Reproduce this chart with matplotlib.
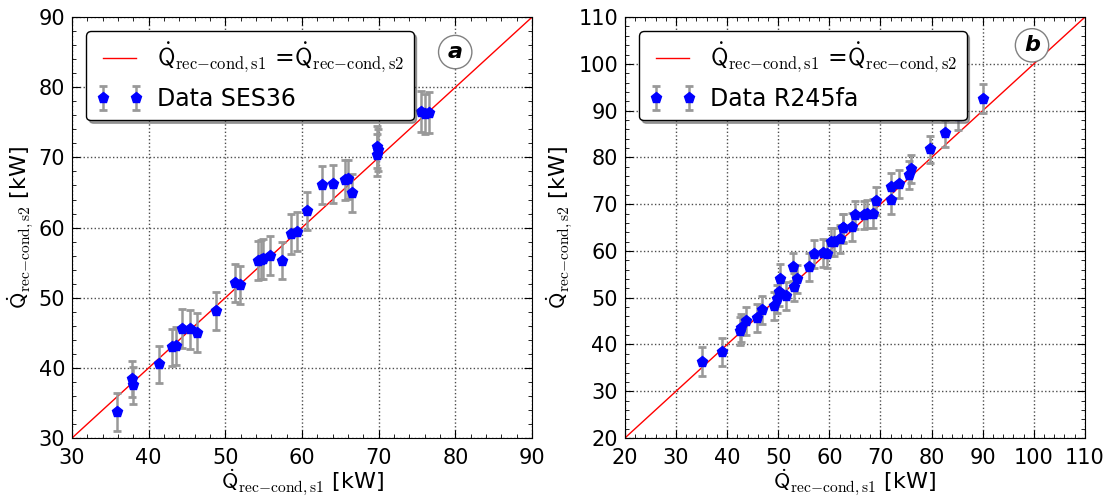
import matplotlib
matplotlib.use("Agg")
import matplotlib.pyplot as plt
from matplotlib.ticker import AutoMinorLocator, MultipleLocator

# data
x_ses = [35.8, 37.8, 37.9, 41.3, 43.0, 43.5, 44.4, 45.4, 46.3, 48.8, 51.3, 51.9,
         54.2, 54.6, 54.9, 55.8, 57.4, 58.6, 59.3, 60.7, 62.6, 64.1, 65.6, 66.0,
         66.5, 69.8, 69.9, 69.8, 75.5, 76.1, 76.6]
y_ses = [33.7, 38.4, 37.5, 40.5, 42.9, 43.1, 45.6, 45.5, 45.0, 48.1, 52.1, 51.8,
         55.3, 55.4, 55.5, 56.0, 55.3, 59.1, 59.4, 62.3, 66.1, 66.2, 66.8, 66.9,
         64.9, 70.3, 71.0, 71.5, 76.5, 76.2, 76.4]
e_ses = [2.7, 2.6, 2.6, 2.6, 2.7, 2.7, 2.8, 2.8, 2.8, 2.7, 2.7, 2.7,
         2.8, 2.8, 2.8, 2.8, 2.7, 2.8, 2.8, 2.7, 2.7, 2.7, 2.8, 2.8,
         2.7, 3.0, 3.0, 3.0, 2.9, 2.9, 2.9]

x_r245 = [35.1, 39.0, 42.5, 42.8, 43.7, 45.9, 46.9, 49.1, 49.8, 50.2, 50.3, 51.5,
          52.8, 53.1, 53.7, 56.1, 57.0, 58.7, 59.5, 60.4, 60.9, 62.1, 62.6, 62.7,
          64.4, 65.0, 66.8, 67.3, 68.5, 69.2, 72.0, 72.0, 73.6, 75.5, 75.9, 79.7,
          82.6, 85.1, 90.0]
y_r245 = [36.3, 38.4, 42.9, 43.5, 45.0, 45.7, 47.3, 48.2, 49.7, 51.3, 54.1, 50.4,
          56.5, 52.2, 53.9, 56.6, 59.3, 59.6, 59.3, 62.0, 62.0, 62.5, 65.0, 64.8,
          65.2, 67.7, 67.7, 67.9, 68.0, 70.7, 70.9, 73.7, 74.3, 76.2, 77.5, 81.7,
          85.2, 88.8, 92.5]
e_r245 = [3.1, 3.0, 3.0, 3.0, 3.0, 3.0, 3.0, 3.0, 3.0, 3.0, 3.0, 3.0,
          3.0, 3.0, 3.0, 3.0, 3.0, 3.0, 3.0, 3.0, 3.0, 3.0, 3.0, 3.0,
          3.0, 3.0, 3.0, 3.0, 3.0, 3.0, 3.0, 3.0, 3.0, 3.0, 3.0, 2.8,
          2.9, 3.0, 3.1]

plt.rcParams.update({
    "mathtext.fontset": "cm",
    "xtick.direction": "in", "ytick.direction": "in",
    "xtick.top": True, "ytick.right": True,
    "xtick.major.size": 6, "ytick.major.size": 6,
    "xtick.minor.size": 3, "ytick.minor.size": 3,
    "xtick.major.pad": 7, "ytick.major.pad": 5,
    "xtick.labelsize": 15, "ytick.labelsize": 15,
})

q1 = r"$\dot{\mathsf{Q}}_{\mathrm{rec{-}cond,s1}}$"
q2 = r"$\dot{\mathsf{Q}}_{\mathrm{rec{-}cond,s2}}$"

fig = plt.figure(figsize=(11.1, 5.04), dpi=100)
ax1 = fig.add_axes([0.0649, 0.131, 0.4144, 0.835])
ax2 = fig.add_axes([0.563, 0.131, 0.4144, 0.835])


def panel(ax, x, y, err, lim, name, tag, tagpos):
    ax.plot(lim, lim, color="red", lw=1, label=q1 + " =" + q2)
    eb = ax.errorbar(x, y, yerr=err, fmt="p", color="blue", mec="blue", ms=8,
                     ecolor="0.6", elinewidth=1.8, capsize=3, capthick=2,
                     label="Data " + name)
    for c in eb[1]:
        c.set_color("0.4")
    ax.set_xlim(lim)
    ax.set_ylim(lim)
    ax.xaxis.set_major_locator(MultipleLocator(10))
    ax.yaxis.set_major_locator(MultipleLocator(10))
    ax.xaxis.set_minor_locator(AutoMinorLocator(5))
    ax.yaxis.set_minor_locator(AutoMinorLocator(5))
    ax.grid(True, which="major", color="0.3", linestyle=":", linewidth=1)
    ax.set_xlabel(q1 + " [kW]", fontsize=16, labelpad=0)
    ax.set_ylabel(q2 + " [kW]", fontsize=16, labelpad=2)
    ax.legend(loc="upper left", numpoints=2, fontsize=17, fancybox=True,
              shadow=True, framealpha=1, edgecolor="black",
              handletextpad=0.6, borderaxespad=0.6)
    ax.text(tagpos[0], tagpos[1], tag, transform=ax.transAxes, fontsize=16,
            fontweight="bold", fontstyle="italic", ha="center", va="center",
            bbox=dict(boxstyle="circle,pad=0.3", fc="white", ec="0.5"))


panel(ax1, x_ses, y_ses, e_ses, [30, 90], "SES36", "a", (0.833, 0.917))
panel(ax2, x_r245, y_r245, e_r245, [20, 110], "R245fa", "b", (0.885, 0.933))

fig.savefig("out.png", dpi=100)
